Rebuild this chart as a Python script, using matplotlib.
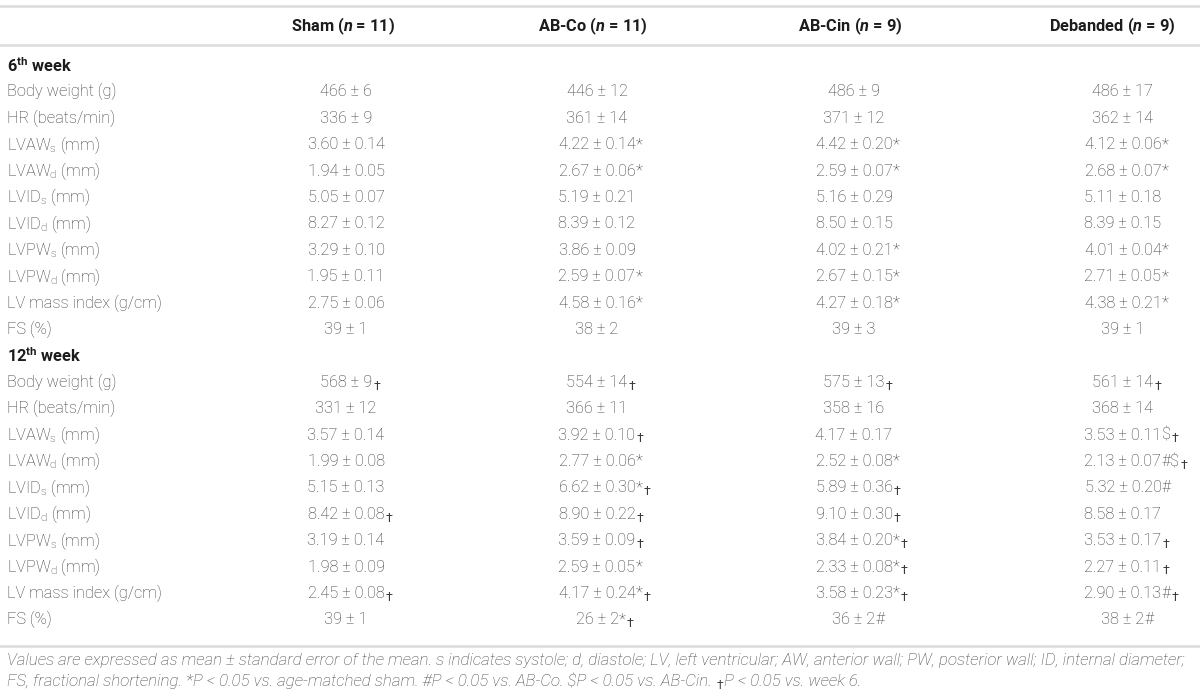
import re
import matplotlib
matplotlib.use('Agg')
import matplotlib.pyplot as plt

plt.rcParams['font.family'] = ['Roboto', 'DejaVu Sans']
plt.rcParams['mathtext.fontset'] = 'custom'
plt.rcParams['mathtext.rm'] = 'Roboto:light'
plt.rcParams['mathtext.bf'] = 'Roboto:bold'
plt.rcParams['mathtext.it'] = 'Roboto:bold:italic'

# table content
groups = ['Sham', 'AB-Co', 'AB-Cin', 'Debanded']
group_n = [11, 11, 9, 9]
weeks = ['6$^{\\mathbf{th}}$ week', '12$^{\\mathbf{th}}$ week']
row_labels = ['Body weight (g)', 'HR (beats/min)',
              'LVAW$_{\\mathrm{s}}$ (mm)', 'LVAW$_{\\mathrm{d}}$ (mm)',
              'LVID$_{\\mathrm{s}}$ (mm)', 'LVID$_{\\mathrm{d}}$ (mm)',
              'LVPW$_{\\mathrm{s}}$ (mm)', 'LVPW$_{\\mathrm{d}}$ (mm)',
              'LV mass index (g/cm)', 'FS (%)']

sham_6 = ['466 ± 6', '336 ± 9', '3.60 ± 0.14', '1.94 ± 0.05', '5.05 ± 0.07',
          '8.27 ± 0.12', '3.29 ± 0.10', '1.95 ± 0.11', '2.75 ± 0.06', '39 ± 1']
abco_6 = ['446 ± 12', '361 ± 14', '4.22 ± 0.14*', '2.67 ± 0.06*', '5.19 ± 0.21',
          '8.39 ± 0.12', '3.86 ± 0.09', '2.59 ± 0.07*', '4.58 ± 0.16*', '38 ± 2']
abcin_6 = ['486 ± 9', '371 ± 12', '4.42 ± 0.20*', '2.59 ± 0.07*', '5.16 ± 0.29',
           '8.50 ± 0.15', '4.02 ± 0.21*', '2.67 ± 0.15*', '4.27 ± 0.18*', '39 ± 3']
deb_6 = ['486 ± 17', '362 ± 14', '4.12 ± 0.06*', '2.68 ± 0.07*', '5.11 ± 0.18',
         '8.39 ± 0.15', '4.01 ± 0.04*', '2.71 ± 0.05*', '4.38 ± 0.21*', '39 ± 1']

sham_12 = ['568 ± 9†', '331 ± 12', '3.57 ± 0.14', '1.99 ± 0.08', '5.15 ± 0.13',
           '8.42 ± 0.08†', '3.19 ± 0.14', '1.98 ± 0.09', '2.45 ± 0.08†', '39 ± 1']
abco_12 = ['554 ± 14†', '366 ± 11', '3.92 ± 0.10†', '2.77 ± 0.06*', '6.62 ± 0.30*†',
           '8.90 ± 0.22†', '3.59 ± 0.09†', '2.59 ± 0.05*', '4.17 ± 0.24*†', '26 ± 2*†']
abcin_12 = ['575 ± 13†', '358 ± 16', '4.17 ± 0.17', '2.52 ± 0.08*', '5.89 ± 0.36†',
            '9.10 ± 0.30†', '3.84 ± 0.20*†', '2.33 ± 0.08*†', '3.58 ± 0.23*†', '36 ± 2#']
deb_12 = ['561 ± 14†', '368 ± 14', '3.53 ± 0.11$†', '2.13 ± 0.07#$†', '5.32 ± 0.20#',
          '8.58 ± 0.17', '3.53 ± 0.17†', '2.27 ± 0.11†', '2.90 ± 0.13#†', '38 ± 2#']

week_cols = [[sham_6, abco_6, abcin_6, deb_6], [sham_12, abco_12, abcin_12, deb_12]]

note_1 = ('Values are expressed as mean ± standard error of the mean. s indicates systole; '
          'd, diastole; LV, left ventricular; AW, anterior wall; PW, posterior wall; ID, internal diameter;')
note_2a = ('FS, fractional shortening. *P < 0.05 vs. age-matched sham. #P < 0.05 vs. AB-Co. '
           '$P < 0.05 vs. AB-Cin.')
note_2b = 'P < 0.05 vs. week 6.'

# layout (pixels)
head_x = [343, 593, 850, 1112]
val_x = [346, 597, 854, 1123]
label_x = 7
head_y = 26
row0_y = 65.5
row_h = 26.4
fs = 11.8
fs_note = 12.15
body_c = '#3a3a3a'
line_c = '#dcdcdc'

fig = plt.figure(figsize=(12, 6.98), dpi=100)
ax = fig.add_axes([0, 0, 1, 1])
ax.set_xlim(0, 1200)
ax.set_ylim(698, 0)
ax.axis('off')

for yl in [5.5, 45, 646]:
    ax.axhline(yl, color=line_c, lw=1.8)

for j, g in enumerate(groups):
    ax.text(head_x[j], head_y, g + ' ($\\mathit{n}$ = %d)' % group_n[j], ha='center',
            va='center', fontsize=fs, fontweight='bold', color='#1c1c1c')


def cell(x, y, s):
    main, marks = re.match(r'^(.*?)([*#$†]*)$', s).groups()
    t = ax.text(x, y, main, ha='center', va='center', fontsize=fs,
                fontweight='light', color=body_c)
    prev = t
    plain = marks.replace('†', '')
    if plain:
        prev = ax.annotate(plain, xy=(1, 0), xycoords=prev, xytext=(0.2, 0),
                           textcoords='offset points', ha='left', va='bottom',
                           fontsize=fs, fontweight='light', color=body_c, parse_math=False)
    if '†' in marks:
        ax.annotate('†', xy=(1, 0), xycoords=prev, xytext=(0.8, -2.0),
                    textcoords='offset points', ha='left', va='bottom',
                    fontsize=fs * 0.76, fontweight='normal', color=body_c)


i = 0
for w, cols in zip(weeks, week_cols):
    y = row0_y + i * row_h
    ax.text(label_x, y, w, ha='left', va='center', fontsize=fs, fontweight='bold',
            color='#1c1c1c')
    i += 1
    for r, lab in enumerate(row_labels):
        y = row0_y + i * row_h
        ax.text(label_x, y, lab, ha='left', va='center', fontsize=fs,
                fontweight='light', color=body_c)
        for j in range(len(groups)):
            cell(val_x[j], y, cols[j][r])
        i += 1

note_c = '#444444'
ax.text(label_x, 661, note_1, ha='left', va='center', fontsize=fs_note,
        style='italic', fontweight='light', color=note_c)
pa = ax.text(label_x, 681, note_2a, ha='left', va='center', fontsize=fs_note,
             style='italic', fontweight='light', color=note_c, parse_math=False)
dg = ax.annotate('†', xy=(1, 0), xycoords=pa, xytext=(3.5, -2.0),
                 textcoords='offset points', ha='left', va='bottom',
                 fontsize=fs_note * 0.72, fontweight='normal', color=note_c)
ax.annotate(note_2b, xy=(1, 0), xycoords=(dg, pa), xytext=(0.3, 0),
            textcoords='offset points', ha='left', va='bottom', fontsize=fs_note,
            style='italic', fontweight='light', color=note_c)

fig.savefig('out.png', dpi=100)
